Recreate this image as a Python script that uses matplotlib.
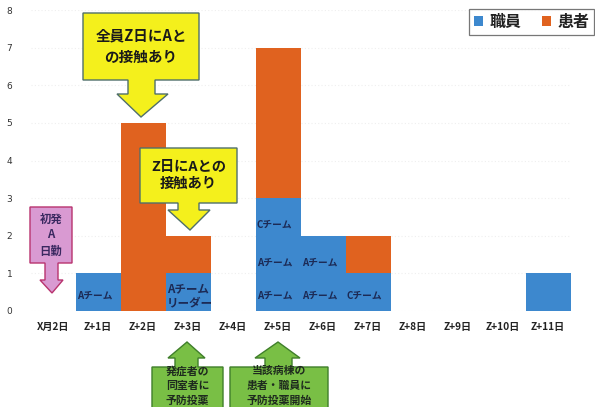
import matplotlib
matplotlib.use("Agg")
import matplotlib.pyplot as plt
from matplotlib.patches import Polygon, Patch
import numpy as np

plt.rcParams['font.family'] = ['Noto Sans CJK JP', 'DejaVu Sans']

# ---- data ----
days = ["X月2日", "Z+1日", "Z+2日", "Z+3日", "Z+4日", "Z+5日",
        "Z+6日", "Z+7日", "Z+8日", "Z+9日", "Z+10日", "Z+11日"]
staff = [0, 1, 0, 1, 0, 3, 2, 1, 0, 0, 0, 1]      # 職員
patients = [0, 0, 5, 1, 0, 4, 0, 1, 0, 0, 0, 0]   # 患者
series_names = ["職員", "患者"]
yticks = [0, 1, 2, 3, 4, 5, 6, 7, 8]

# team labels written inside the staff bars: (day index, level, text)
team_labels = [
    (1, 0, "Aチーム"),
    (3, 0, "Aチーム\nリーダー"),
    (5, 0, "Aチーム"),
    (5, 1, "Aチーム"),
    (5, 2, "Cチーム"),
    (6, 0, "Aチーム"),
    (6, 1, "Aチーム"),
    (7, 0, "Cチーム"),
]

BLUE = "#3D88CE"
ORANGE = "#E0621F"

W, H = 595, 407
fig = plt.figure(figsize=(W / 100, H / 100), dpi=100)
fig.patch.set_facecolor("white")

# axes placement in pixels
ax_left, ax_right, ax_top, ax_bot = 30.5, 570.5, 10, 311
ax = fig.add_axes([ax_left / W, 1 - ax_bot / H,
                   (ax_right - ax_left) / W, (ax_bot - ax_top) / H])

x = np.arange(len(days))
ax.bar(x, staff, width=1.0, color=BLUE, zorder=2)
ax.bar(x, patients, width=1.0, bottom=staff, color=ORANGE, zorder=2)

ax.set_xlim(-0.5, len(days) - 0.5)
ax.set_ylim(0, 8)
ax.set_yticks(yticks)
ax.set_yticklabels([str(v) for v in yticks], fontsize=6.5, color="#333333",
                   family=['DejaVu Sans'])
ax.set_xticks(x)
ax.set_xticklabels(days, fontsize=7.3, color="#222222", fontweight="bold")
ax.tick_params(axis="both", length=0)
ax.tick_params(axis="y", pad=13)
ax.tick_params(axis="x", pad=8)
for s in ax.spines.values():
    s.set_visible(False)
ax.yaxis.grid(True, color="#efefef", linestyle=(0, (1, 2)), linewidth=0.8, zorder=0)
ax.set_axisbelow(True)

# team labels
for day, level, txt in team_labels:
    ypos = level + (0.42 if level == 0 else 0.3)
    fs = 7.0
    if "\n" in txt:
        ypos = 0.4
        fs = 8.3
    ax.text(day - 0.47, ypos, txt, ha="left", va="center", fontsize=fs,
            fontweight="bold", color="#1c2a55", zorder=3, linespacing=1.15)


def px(xp, yp):
    return (xp / W, 1 - yp / H)


def callout_down(box, shaft, head, tip, face, edge, text, tcolor, fs, ls=1.3):
    x0, x1, y0, y1 = box
    s0, s1, sy = shaft
    h0, h1 = head
    tx, ty = tip
    pts = [(x0, y0), (x1, y0), (x1, y1), (s1, y1), (s1, sy), (h1, sy),
           (tx, ty), (h0, sy), (s0, sy), (s0, y1), (x0, y1)]
    poly = Polygon([px(*p) for p in pts], closed=True, facecolor=face,
                   edgecolor=edge, linewidth=1.0, transform=fig.transFigure,
                   zorder=5)
    fig.add_artist(poly)
    cx, cy = px((x0 + x1) / 2, (y0 + y1) / 2)
    fig.text(cx, cy, text, ha="center", va="center", fontsize=fs,
             fontweight="bold", color=tcolor, linespacing=ls, zorder=6)


def callout_up(box, shaft, head, tip, face, edge, text, tcolor, fs, text_top, ls=1.25):
    x0, x1, y0, y1 = box
    s0, s1, sy = shaft
    h0, h1 = head
    tx, ty = tip
    pts = [(x0, y0), (s0, y0), (s0, sy), (h0, sy), (tx, ty), (h1, sy),
           (s1, sy), (s1, y0), (x1, y0), (x1, y1), (x0, y1)]
    poly = Polygon([px(*p) for p in pts], closed=True, facecolor=face,
                   edgecolor=edge, linewidth=1.0, transform=fig.transFigure,
                   zorder=5)
    fig.add_artist(poly)
    cx, cy = px((x0 + x1) / 2, text_top)
    fig.text(cx, cy, text, ha="center", va="top", fontsize=fs,
             fontweight="bold", color=tcolor, linespacing=ls, zorder=6)


YELLOW = "#F4F01C"
YEDGE = "#4f6f6a"
callout_down((83, 199, 13, 80), (128, 155, 94), (117, 168), (141, 117),
             YELLOW, YEDGE, "全員Z日にAと\nの接触あり", "#1a1a1a", 10.5, 1.4)
callout_down((140, 237, 148, 203), (178, 199, 210), (168, 210), (190, 230),
             YELLOW, YEDGE, "Z日にAとの\n接触あり", "#1a1a1a", 10.3, 1.25)
callout_down((30, 72, 207, 263), (45, 58, 280), (40, 63), (52, 293),
             "#D99AD2", "#B8336E", "初発\nA\n日勤", "#3a2860", 8.2, 1.3)

GREEN = "#79BF45"
GEDGE = "#3f7f2a"
callout_up((152, 223, 367, 420), (175, 198, 358), (168, 205), (187, 342),
           GREEN, GEDGE, "発症者の\n同室者に\n予防投薬", "#1e2a1e", 7.8, 366, 1.55)
callout_up((230, 328, 367, 420), (265, 292, 358), (255, 300), (278, 342),
           GREEN, GEDGE, "当該病棟の\n患者・職員に\n予防投薬開始", "#1e2a1e", 7.8, 366, 1.55)

# legend
handles = [Patch(facecolor=BLUE, edgecolor="none"),
           Patch(facecolor=ORANGE, edgecolor="none")]
leg = fig.legend(handles, series_names, loc="upper right",
                 bbox_to_anchor=(594 / W, 1 - 9 / H), ncol=2,
                 prop={"size": 11.5, "weight": "bold", "family": ['Noto Sans CJK JP']},
                 handlelength=0.55, handleheight=0.55, handletextpad=0.4,
                 columnspacing=1.3, borderpad=0.3, borderaxespad=0.0,
                 frameon=True, fancybox=False, labelcolor="#222222")
leg.get_frame().set_edgecolor("#555555")
leg.get_frame().set_linewidth(0.9)

fig.savefig("out.png", dpi=100, facecolor="white")
